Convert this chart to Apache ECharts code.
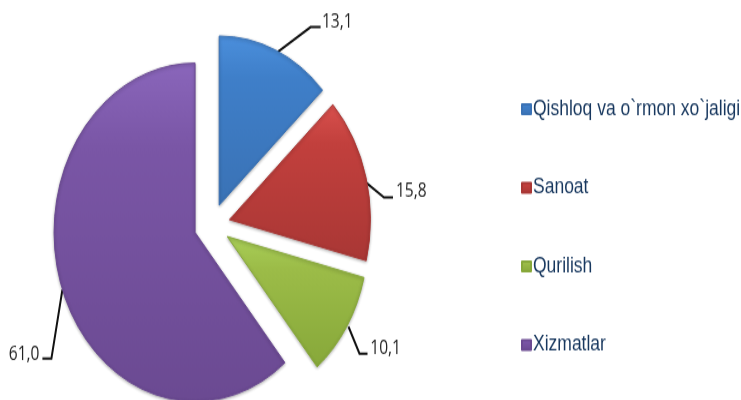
<!DOCTYPE html>
<html><head><meta charset="utf-8">
<style>html,body{margin:0;padding:0;background:#fff;overflow:hidden;width:741px;height:400px}
#c{width:741px;height:334px;transform:scaleY(1.2);transform-origin:0 0}</style>
<script src="https://cdn.jsdelivr.net/npm/echarts@6/dist/echarts.min.js"></script></head>
<body><div id="c"></div>
<script>
const categories=["Qishloq va o`rmon xo`jaligi","Sanoat","Qurilish","Xizmatlar"];
const values=[13.1,15.8,10.1,61.0];
const valueLabels=["13,1","15,8","10,1","61,0"];
const topColors=["#4b8fdc","#d9504d","#a9cf58","#8a66bb"];
const midColors=["#3f7fc9","#c2403d","#9cbc48","#7a56a6"];
const lowColors=["#3a72b5","#a93735","#87a83a","#6b4a92"];
const startShift=[[2,2],[0,5],[2,0],[0,0]];
const elbowShift=[[35,-23],[18,20],[13,27],[-11,69]];
const tail=[10,9,8,-9];
const labelPadding=[[0,0,0,40],[0,0,0,23],[0,0,0,17],[0,16,0,0]];
const labelLift=[-45,24,36,108];
const yScale=1.2;
const chart=echarts.init(document.getElementById('c'),null,{renderer:'canvas'});
function fill(i){return new echarts.graphic.LinearGradient(0,0,0,1,[
 {offset:0,color:topColors[i]},{offset:0.25,color:midColors[i]},{offset:1,color:lowColors[i]}]);}
chart.setOption({
 animation:false,
 legend:{orient:'vertical',left:516,top:76.5,itemWidth:9,itemHeight:8,itemGap:46.5,icon:'rect',
  selectedMode:false,
  textStyle:{color:'#17375e',fontFamily:'Liberation Sans',fontSize:17.5,padding:[0,0,0,-3],height:19,lineHeight:19},
  data:categories},
 series:[{type:'pie',center:[212,187.5],radius:[0,141],startAngle:90,clockwise:true,
  selectedMode:'multiple',selectedOffset:18,avoidLabelOverlap:false,
  emphasis:{disabled:true},
  label:{color:'#222',fontFamily:'Open Sans',fontSize:15.5,position:'outside',
   formatter:p=>labelLift[p.dataIndex]<0?valueLabels[p.dataIndex]+'\n ':' \n'+valueLabels[p.dataIndex]},
  labelLine:{show:true,length:1,length2:1,lineStyle:{color:'#111',width:2}},
  labelLayout:function(p){
   const i=p.dataIndex,s=p.labelLinePoints[0];
   const a=[s[0]+startShift[i][0],s[1]+startShift[i][1]/yScale];
   const b=[s[0]+elbowShift[i][0],s[1]+elbowShift[i][1]/yScale];
   const c=[b[0]+tail[i],b[1]];
   return {labelLinePoints:[a,b,c]};
  },
  data:categories.map((n,i)=>({name:n,value:values[i],selected:true,
   label:{padding:labelPadding[i],lineHeight:Math.abs(labelLift[i])},
   itemStyle:{color:fill(i),borderColor:lowColors[i],borderWidth:1,shadowBlur:3,shadowColor:'rgba(0,0,0,0.3)',shadowOffsetY:1}}))
 }]
});
</script></body></html>
